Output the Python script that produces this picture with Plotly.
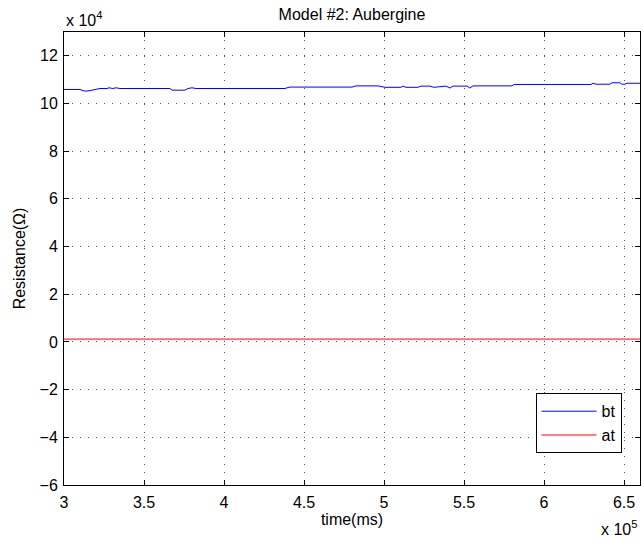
import plotly.graph_objects as go

# ---- data (raw units: time in ms, resistance in ohm) ----
bt_time = [300000, 310000, 311900, 313700, 316200, 320600, 322500, 326900, 328100, 330600,
           332500, 335000, 366200, 367500, 375600, 377500, 380000, 382500, 385000, 438100,
           440000, 441200, 480000, 482500, 496200, 500600, 510600, 511900, 513700, 521200,
           523100, 528700, 531200, 535000, 538700, 541200, 543100, 551900, 553700, 555600,
           580000, 581200, 629400, 630600, 632500, 641200, 642500, 647500, 648700, 650600,
           651900, 660000]
bt_vals = [105900, 105900, 105400, 105200, 105400, 105900, 106300, 106300, 106600, 106300,
           106600, 106300, 106300, 105600, 105600, 106300, 106600, 106300, 106300, 106300,
           106700, 106900, 106900, 107400, 107400, 106800, 106800, 107300, 106800, 106800,
           107300, 107300, 106800, 107000, 107300, 106500, 107300, 107300, 106500, 107400,
           107400, 108000, 108000, 108500, 108100, 108100, 108700, 108700, 108100, 108100,
           108500, 108500]
at_time = [300000, 660000]
at_vals = [1200, 1200]

x_tickvals = [300000, 350000, 400000, 450000, 500000, 550000, 600000, 650000]
x_ticktext = ["3", "3.5", "4", "4.5", "5", "5.5", "6", "6.5"]
y_tickvals = [-60000, -40000, -20000, 0, 20000, 40000, 60000, 80000, 100000, 120000]
y_ticktext = ["\u22126", "\u22124", "\u22122", "0", "2", "4", "6", "8", "10", "12"]

FONT = "Liberation Sans, Arial, Helvetica, sans-serif"
FS = 16

fig = go.Figure()
fig.add_trace(go.Scatter(x=bt_time, y=bt_vals, mode="lines", name="bt",
                         line=dict(color="#0000ff", width=1)))
fig.add_trace(go.Scatter(x=at_time, y=at_vals, mode="lines", name="at",
                         line=dict(color="#ff0000", width=1)))

axis_common = dict(
    showline=True, linecolor="#000000", linewidth=1, mirror="ticks",
    ticks="inside", ticklen=5, tickcolor="#000000", tickwidth=1,
    showgrid=True, gridcolor="#555555", gridwidth=1, griddash="1px,7px",
    zeroline=False, tickfont=dict(family=FONT, size=FS, color="#000000"),
)

fig.update_xaxes(range=[300000, 660000], tickmode="array", tickvals=x_tickvals,
                 ticktext=x_ticktext, ticklabelstandoff=3,
                 title=dict(text="time(ms)", font=dict(family=FONT, size=FS, color="#000"),
                            standoff=3),
                 **axis_common)
fig.update_yaxes(range=[-60000, 130000], tickmode="array", tickvals=y_tickvals,
                 ticktext=y_ticktext, ticklabelstandoff=2,
                 title=dict(text="Resistance(\u03a9)", font=dict(family=FONT, size=FS, color="#000"),
                            standoff=9),
                 **axis_common)

fig.update_layout(
    width=641, height=538,
    margin=dict(l=64, r=1, t=32, b=53, autoexpand=False),
    paper_bgcolor="white", plot_bgcolor="white",
    font=dict(family=FONT, size=FS, color="#000"),
    title=dict(text="Model #2: Aubergine", x=0.5, xref="paper", xanchor="center",
               y=1 - 14 / 538, yref="container", yanchor="middle",
               font=dict(family=FONT, size=FS, color="#000")),
    showlegend=True,
    legend=dict(x=0.968, y=0.07, xanchor="right", yanchor="bottom",
                bgcolor="white", bordercolor="#000", borderwidth=1,
                font=dict(family=FONT, size=FS, color="#000"),
                itemwidth=55, tracegroupgap=0),
    annotations=[
        dict(text="x 10<sup>4</sup>", xref="paper", yref="paper", x=0, y=1,
             xanchor="left", yanchor="bottom", yshift=1, showarrow=False,
             font=dict(family=FONT, size=FS, color="#000")),
        dict(text="x 10<sup>5</sup>", xref="paper", yref="paper", x=1.0, y=-0.094,
             xanchor="right", xshift=-1, yanchor="middle", showarrow=False,
             font=dict(family=FONT, size=FS, color="#000")),
    ],
)

fig.write_html("out.html")
